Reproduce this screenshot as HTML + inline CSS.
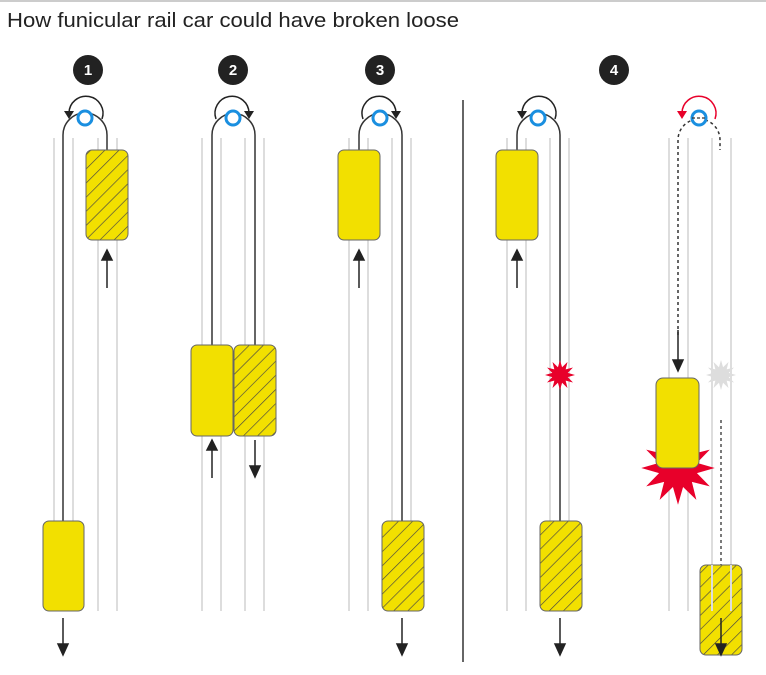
<!DOCTYPE html>
<html><head><meta charset="utf-8"><style>
html,body{margin:0;padding:0;background:#fff;}
svg{display:block;}
</style></head><body>
<svg width="766" height="675" viewBox="0 0 766 675" xmlns="http://www.w3.org/2000/svg">
<defs>
<pattern id="h" patternUnits="userSpaceOnUse" width="10" height="10" patternTransform="rotate(-45)">
<rect width="10" height="10" fill="#f2e000"/>
<line x1="0" y1="0" x2="10" y2="0" stroke="#444" stroke-width="1.3"/>
</pattern>
<polygon id="star" points="15,0 7.73,2.07 12.99,7.5 5.66,5.66 7.5,12.99 2.07,7.73 0,15 -2.07,7.73 -7.5,12.99 -5.66,5.66 -12.99,7.5 -7.73,2.07 -15,0 -7.73,-2.07 -12.99,-7.5 -5.66,-5.66 -7.5,-12.99 -2.07,-7.73 0,-15 2.07,-7.73 7.5,-12.99 5.66,-5.66 12.99,-7.5 7.73,-2.07"/>
</defs>
<line x1="0" y1="1" x2="766" y2="1" stroke="#bbb" stroke-width="1.5"/>
<text x="7" y="27" font-family="Liberation Sans, sans-serif" font-size="20" fill="#222" textLength="452" lengthAdjust="spacingAndGlyphs">How funicular rail car could have broken loose</text>

<g stroke="#ddd" stroke-width="2">
<line x1="54" y1="138" x2="54" y2="611"/><line x1="73" y1="138" x2="73" y2="611"/><line x1="98" y1="138" x2="98" y2="611"/><line x1="117" y1="138" x2="117" y2="611"/>
<line x1="202" y1="138" x2="202" y2="611"/><line x1="221" y1="138" x2="221" y2="611"/><line x1="245" y1="138" x2="245" y2="611"/><line x1="264" y1="138" x2="264" y2="611"/>
<line x1="349" y1="138" x2="349" y2="611"/><line x1="368" y1="138" x2="368" y2="611"/><line x1="392" y1="138" x2="392" y2="611"/><line x1="411" y1="138" x2="411" y2="611"/>
<line x1="507" y1="138" x2="507" y2="611"/><line x1="526" y1="138" x2="526" y2="611"/><line x1="550" y1="138" x2="550" y2="611"/><line x1="569" y1="138" x2="569" y2="611"/>
<line x1="669" y1="138" x2="669" y2="611"/><line x1="688" y1="138" x2="688" y2="611"/><line x1="712" y1="138" x2="712" y2="611"/><line x1="731" y1="138" x2="731" y2="611"/>
</g>
<line x1="463" y1="100" x2="463" y2="662" stroke="#333" stroke-width="1.5"/>

<g fill="none" stroke="#333" stroke-width="1.5">
<path d="M63,522 V135 A22,22 0 0 1 107,135 V150"/>
<path d="M212,345 V135 A21.5,21.5 0 0 1 255,135 V345"/>
<path d="M359,150 V135 A21.5,21.5 0 0 1 402,135 V522"/>
<path d="M517,150 V135 A21.5,21.5 0 0 1 560,135 V522"/>
<path d="M678,335 V140 A21,21 0 0 1 720,140 V150" stroke-dasharray="3,3"/>
<line x1="721" y1="420" x2="721" y2="565" stroke-dasharray="3,3" stroke-width="1.3"/>
</g>

<g fill="none" stroke="#222" stroke-width="1.5">
<path d="M102,119 A17,17 0 1 0 69,113"/>
<path d="M216,119 A17,17 0 1 1 249,113"/>
<path d="M363,119 A17,17 0 1 1 396,113"/>
<path d="M555,119 A17,17 0 1 0 522,113"/>
<path d="M715,119 A17,17 0 1 0 682,113" stroke="#e8002a"/>
</g>
<g fill="#222">
<path d="M64,111 L74,111 L69,119 Z"/>
<path d="M244,111 L254,111 L249,119 Z"/>
<path d="M391,111 L401,111 L396,119 Z"/>
<path d="M517,111 L527,111 L522,119 Z"/>
<path d="M677,111 L687,111 L682,119 Z" fill="#e8002a"/>
</g>
<g fill="#fff" stroke="#1a8fe0" stroke-width="3">
<circle cx="85" cy="118" r="7"/><circle cx="233" cy="118" r="7"/><circle cx="380" cy="118" r="7"/><circle cx="538" cy="118" r="7"/><circle cx="699" cy="118" r="7"/>
</g>
<line x1="692" y1="118" x2="706" y2="118" stroke="#333" stroke-width="1.3" stroke-dasharray="3,2"/>

<use href="#star" transform="translate(560,375)" fill="#e8002a"/>
<use href="#star" transform="translate(721,375)" fill="#ddd"/>
<use href="#star" transform="translate(678,468) scale(2.45,2.45)" fill="#e8002a"/>

<g stroke="#666" stroke-width="1">
<rect x="86" y="150" width="42" height="90" rx="6" fill="url(#h)"/>
<rect x="43" y="521" width="41" height="90" rx="6" fill="#f2e000"/>
<rect x="191" y="345" width="42" height="91" rx="6" fill="#f2e000"/>
<rect x="234" y="345" width="42" height="91" rx="6" fill="url(#h)"/>
<rect x="338" y="150" width="42" height="90" rx="6" fill="#f2e000"/>
<rect x="382" y="521" width="42" height="90" rx="6" fill="url(#h)"/>
<rect x="496" y="150" width="42" height="90" rx="6" fill="#f2e000"/>
<rect x="540" y="521" width="42" height="90" rx="6" fill="url(#h)"/>
<rect x="656" y="378" width="43" height="90" rx="7" fill="#f2e000"/>
<rect x="700" y="565" width="42" height="90" rx="6" fill="url(#h)"/>
</g>
<g stroke="#ddd" stroke-width="2">
<line x1="712" y1="565" x2="712" y2="611"/><line x1="731" y1="565" x2="731" y2="611"/>
</g>

<g stroke="#222" stroke-width="1.5" fill="#222">
<line x1="107" y1="288" x2="107" y2="258"/><path d="M102,260 L112,260 L107,250 Z"/>
<line x1="63" y1="618" x2="63" y2="646"/><path d="M58,644 L68,644 L63,655 Z"/>
<line x1="212" y1="478" x2="212" y2="448"/><path d="M207,450 L217,450 L212,440 Z"/>
<line x1="255" y1="440" x2="255" y2="468"/><path d="M250,466 L260,466 L255,477 Z"/>
<line x1="359" y1="288" x2="359" y2="258"/><path d="M354,260 L364,260 L359,250 Z"/>
<line x1="402" y1="618" x2="402" y2="646"/><path d="M397,644 L407,644 L402,655 Z"/>
<line x1="517" y1="288" x2="517" y2="258"/><path d="M512,260 L522,260 L517,250 Z"/>
<line x1="560" y1="618" x2="560" y2="646"/><path d="M555,644 L565,644 L560,655 Z"/>
<line x1="678" y1="330" x2="678" y2="362"/><path d="M673,360 L683,360 L678,371 Z"/>
<line x1="721" y1="618" x2="721" y2="646"/><path d="M716,644 L726,644 L721,655 Z"/>
</g>

<g font-family="Liberation Sans, sans-serif" font-weight="bold" font-size="15" fill="#fff" text-anchor="middle">
<circle cx="88" cy="70" r="15" fill="#222"/><text x="88" y="75">1</text>
<circle cx="233" cy="70" r="15" fill="#222"/><text x="233" y="75">2</text>
<circle cx="380" cy="70" r="15" fill="#222"/><text x="380" y="75">3</text>
<circle cx="614" cy="70" r="15" fill="#222"/><text x="614" y="75">4</text>
</g>
</svg>
</body></html>
